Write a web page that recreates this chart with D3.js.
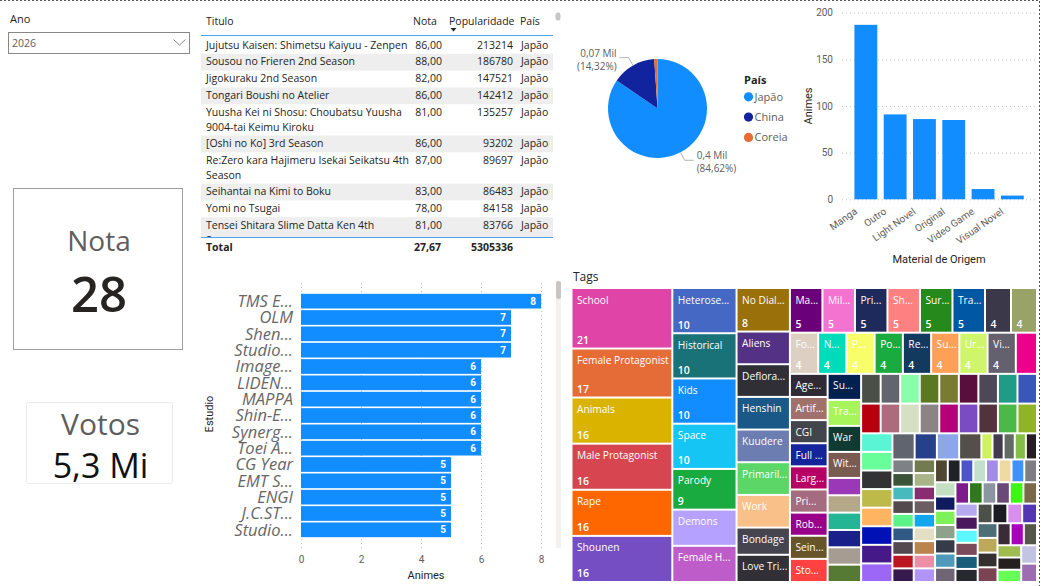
<!DOCTYPE html>
<html>
<head>
<meta charset="utf-8">
<script src="https://cdn.jsdelivr.net/npm/d3@7"></script>
<style>
  body { margin: 0; background: #fff; }
  svg { display: block; }
  text { font-family: "Segoe UI", "Open Sans", sans-serif; }
  text.din, .din text { font-family: "Roboto", "Segoe UI", sans-serif; }
</style>
</head>
<body>
<script>
// ---- dados ----
var anos = ['2026'];

var titulos = [
  'Jujutsu Kaisen: Shimetsu Kaiyuu - Zenpen',
  'Sousou no Frieren 2nd Season',
  'Jigokuraku 2nd Season',
  'Tongari Boushi no Atelier',
  'Yuusha Kei ni Shosu: Choubatsu Yuusha 9004-tai Keimu Kiroku',
  '[Oshi no Ko] 3rd Season',
  'Re:Zero kara Hajimeru Isekai Seikatsu 4th Season',
  'Seihantai na Kimi to Boku',
  'Yomi no Tsugai',
  'Tensei Shitara Slime Datta Ken 4th Season'
];
var notas = [86, 88, 82, 86, 81, 86, 87, 83, 78, 81];
var popularidade = [213214, 186780, 147521, 142412, 135257, 93202, 89697, 86483, 84158, 83766];
var paisTitulo = ['Japão', 'Japão', 'Japão', 'Japão', 'Japão', 'Japão', 'Japão', 'Japão', 'Japão', 'Japão'];
var totalNota = 27.67;
var totalPopularidade = 5305336;

var paises = ['Japão', 'China', 'Coreia'];
var animesPais = [396, 67, 5];
var coresPais = ['#118DFF', '#12239E', '#E66C37'];

var materiais = ['Manga', 'Outro', 'Light Novel', 'Original', 'Video Game', 'Visual Novel'];
var animesMaterial = [187, 91, 86, 85, 11, 4];
var ticksMaterial = [0, 50, 100, 150, 200];

var estudios = ['TMS E...', 'OLM', 'Shen...', 'Studio...', 'Image...', 'LIDEN...', 'MAPPA', 'Shin-E...',
  'Synerg...', 'Toei A...', 'CG Year', 'EMT S...', 'ENGI', 'J.C.ST...', 'Studio...'];
var animesEstudio = [8, 7, 7, 7, 6, 6, 6, 6, 6, 6, 5, 5, 5, 5, 5];
var ticksEstudio = [0, 2, 4, 6, 8];

// nomes legíveis das tags (o resto das células não mostra nome)
var tagNomes = ['School', 'Female Protagonist', 'Animals', 'Male Protagonist', 'Rape', 'Shounen',
  'Heterose...', 'Historical', 'Kids', 'Space', 'Parody', 'Demons', 'Female H...',
  'No Dial...', 'Aliens', 'Deflora...', 'Henshin', 'Kuudere', 'Primaril...', 'Work', 'Bondage', 'Love Tri...',
  'Ma...', 'Mil...', 'Pri...', 'Sh...', 'Sur...', 'Tra...', '', '',
  'Fo...', 'N...', 'P...', 'Po...', 'Re...', 'Su...', 'Ur...', 'Vi...', '',
  'Age...', 'Artif...', 'CGI', 'Full ...', 'Larg...', 'Pri...', 'Rob...', 'Sein...', 'Sto...',
  'Su...', 'Tra...', 'War', 'Wit...'];
var tagValores = [21, 17, 16, 16, 16, 16,
  10, 10, 10, 10, 9, 8, 8,
  8, 6, 6, 6, 6, 6, 6, 5, 5,
  5, 5, 5, 5, 5, 5, 4, 4,
  4, 4, 4, 4, 4, 4, 4, 4, 3,
  3, 3, 3, 3, 3, 3, 3, 3, 3,
  3, 3, 3, 3, 2, 2, 2, 2, 2, 2,
  2, 2, 2, 2, 2, 2, 2, 2, 2,
  2, 2, 2, 2, 2, 2, 2, 2, 2,
  2, 2, 2, 2, 2, 2, 2, 2,
  2, 2, 2, 2, 1, 1, 1, 1, 1,
  1, 1, 1, 1, 1, 1, 1, 1, 1,
  1, 1, 1, 1, 1, 1, 1, 1, 1,
  1, 1, 1, 1, 1, 1, 1, 1,
  1, 1, 1, 1, 1, 1, 1, 1, 1, 1, 1, 1, 1, 1, 1, 1, 1, 1,
  1, 1, 1, 1, 1, 1, 1, 1, 1, 1, 1, 1, 1, 1, 1, 1, 1];
var tagCores = ['#E044A7', '#E66C37', '#D9B300', '#D64550', '#FE6600', '#744EC2',
  '#4668C5', '#197278', '#118DFF', '#15C6F4', '#1AAB40', '#B5A1FF', '#BE5DC9',
  '#99700A', '#533285', '#302F36', '#1A5887', '#6B7DB1', '#5BD667', '#F9C08A', '#45444F', '#313037',
  '#6B007B', '#F472D0', '#1F2A5C', '#FF8080', '#25891C', '#0057A2', '#3A3849', '#9AA367',
  '#DDD0C2', '#00DBBC', '#F7FE6A', '#1AAB40', '#123A5E', '#FFA058', '#CFF56A', '#62616D', '#EC008C',
  '#302A36', '#A0706A', '#43454D', '#15249B', '#B60064', '#A56B7E', '#99008A', '#675529', '#FF4141',
  '#002050', '#A8F55B', '#0F3B33', '#7A5B51', '#9B38B8', '#B4A889', '#23B594', '#1A208A', '#A69C91', '#567A34',
  '#4A5046', '#62656E', '#8AFFAA', '#5B7820', '#7A7B33', '#5A0E3E', '#4D4756', '#1F9B86', '#3957B9',
  '#B7000F', '#AF6B7E', '#D4DFC4', '#8B8384', '#B40079', '#7B4BC3', '#52323C', '#4AB948', '#91B326',
  '#59F5D5', '#68FF9A', '#333336', '#BEBA4A', '#FEB460', '#0011B6', '#451988', '#9C66F6',
  '#60646F', '#264189', '#8DA6EA', '#544F49', '#CFF15B', '#433A4E', '#5F6B63', '#85BE47', '#261E22',
  '#7E8287', '#3B5438', '#47BABE', '#534A4E', '#5CF489', '#305A85', '#534750', '#BC1620', '#38194D',
  '#727A4F', '#A9B488', '#8A2C70', '#6C5D63', '#11A7EE', '#E2DFC4', '#BA844F', '#EB8EA6', '#B094F6',
  '#4F4632', '#1E2126', '#4B54C8', '#C3E0CE', '#A38CE8', '#EEDBA4', '#3E91FE', '#7F7E85',
  '#C4E0C2', '#0F1A5F', '#7DF15A', '#8EA28B', '#363B4A', '#4F9ABA', '#6F6576',
  '#7D1B8D', '#2E7A1A', '#8C96A1', '#6B4977', '#3BF713', '#7A6A49',
  '#B7A9ED', '#4A195D', '#5CF7FE', '#7B4A5A', '#1A5D7B',
  '#262A30', '#4D5048', '#1D1B22', '#D88EEF', '#5436B5',
  '#4C6E77', '#BDA95A', '#34302F', '#7A4455',
  '#3B2B38', '#A900BF', '#54574A', '#9FBC4F', '#25201F', '#66FF55', '#C3C4E3', '#9E6CB0'];

var texto = '#252423';
var cinza = '#605E5C';
var azul = '#118DFF';

var svg = d3.select('body').append('svg')
  .attr('width', 1041)
  .attr('height', 586);

// moldura pontilhada de foco
svg.append('path')
  .attr('d', 'M0,0.5H1039.5V586')
  .attr('fill', 'none')
  .attr('stroke', '#555')
  .attr('stroke-dasharray', '2,2');

// ---- slicer Ano ----
svg.append('text').attr('x', 10).attr('y', 23).text('Ano')
  .style('font-size', '11px').attr('fill', texto);
svg.append('rect')
  .attr('x', 8.5).attr('y', 32.5).attr('width', 181).attr('height', 21)
  .attr('fill', '#fff').attr('stroke', '#8a8886');
svg.append('text').attr('x', 12).attr('y', 47).text(anos[0])
  .style('font-size', '10.5px').attr('fill', cinza);
svg.append('path')
  .attr('d', 'M173.5,39.5L179.5,45L185.5,39.5')
  .attr('fill', 'none').attr('stroke', '#8a8886');

// ---- tabela ----
var fonteTabela = '10.5px "Segoe UI", "Open Sans", sans-serif';
var ctx = document.createElement('canvas').getContext('2d');

function quebraLinhas(t, largura) {
  ctx.font = fonteTabela;
  var palavras = t.split(' '), linhas = [], atual = '';
  palavras.forEach(function(p) {
    var teste = atual ? atual + ' ' + p : p;
    if (ctx.measureText(teste).width > largura && atual) {
      linhas.push(atual);
      atual = p;
    } else {
      atual = teste;
    }
  });
  linhas.push(atual);
  return linhas;
}

function fmtNota(v) { return v.toFixed(2).replace('.', ','); }

var tab = svg.append('g').style('font-size', '10.5px').attr('fill', texto);
tab.append('text').attr('x', 206).attr('y', 25).text('Titulo');
tab.append('text').attr('x', 413).attr('y', 25).text('Nota');
tab.append('text').attr('x', 449).attr('y', 25).text('Popularidade');
tab.append('text').attr('x', 520).attr('y', 25).text('País');
tab.append('path').attr('d', 'M450.5,28h6l-3,3.5z').attr('fill', texto);
svg.append('rect').attr('x', 555.5).attr('y', 12.5).attr('width', 5).attr('height', 8).attr('rx', 2.5)
  .attr('fill', '#c8c6c4');

svg.append('clipPath').attr('id', 'corteTabela')
  .append('rect').attr('x', 200).attr('y', 36).attr('width', 356).attr('height', 201);
var corpo = tab.append('g').attr('clip-path', 'url(#corteTabela)');

var yLinha = 37;
titulos.forEach(function(t, i) {
  var linhas = quebraLinhas(t, 204);
  var alt = 16.8 + (linhas.length - 1) * 14.5;
  if (i % 2 === 1) {
    corpo.append('rect')
      .attr('x', 201).attr('y', yLinha).attr('width', 352).attr('height', alt)
      .attr('fill', '#eeeeee');
  }
  linhas.forEach(function(l, j) {
    corpo.append('text').attr('x', 206).attr('y', yLinha + 11.5 + j * 14.8).text(l);
  });
  corpo.append('text').attr('x', 442).attr('y', yLinha + 11.5).attr('text-anchor', 'end').text(fmtNota(notas[i]));
  corpo.append('text').attr('x', 513).attr('y', yLinha + 11.5).attr('text-anchor', 'end').text(popularidade[i]);
  corpo.append('text').attr('x', 521).attr('y', yLinha + 11.5).text(paisTitulo[i]);
  yLinha += alt;
});

tab.append('line').attr('x1', 201).attr('x2', 553).attr('y1', 35.5).attr('y2', 35.5).attr('stroke', '#4aa3f5');
tab.append('line').attr('x1', 201).attr('x2', 553).attr('y1', 237.5).attr('y2', 237.5).attr('stroke', '#4aa3f5');
var tot = tab.append('g').style('font-weight', 'bold');
tot.append('text').attr('x', 206).attr('y', 251).text('Total');
tot.append('text').attr('x', 441).attr('y', 251).attr('text-anchor', 'end').text(fmtNota(totalNota));
tot.append('text').attr('x', 513).attr('y', 251).attr('text-anchor', 'end').text(totalPopularidade);

// ---- cartões ----
svg.append('rect')
  .attr('x', 13.5).attr('y', 188.5).attr('width', 169).attr('height', 161)
  .attr('fill', 'none').attr('stroke', '#a19f9d');
svg.append('text').attr('x', 99).attr('y', 250.5).attr('text-anchor', 'middle')
  .style('font-size', '28px').attr('fill', cinza).text('Nota');
svg.append('text').attr('x', 99).attr('y', 311.5).attr('text-anchor', 'middle')
  .style('font-size', '49px').style('font-weight', 600).attr('fill', texto)
  .text(Math.round(totalNota));

svg.append('rect')
  .attr('x', 26.5).attr('y', 402.5).attr('width', 146).attr('height', 81).attr('rx', 2)
  .attr('fill', 'none').attr('stroke', '#edebe9');
svg.append('text').attr('x', 100.5).attr('y', 435).attr('text-anchor', 'middle')
  .style('font-size', '30px').attr('fill', cinza).text('Votos');
svg.append('text').attr('x', 100.5).attr('y', 478).attr('text-anchor', 'middle')
  .style('font-size', '34px').attr('fill', '#111')
  .text((totalPopularidade / 1e6).toFixed(1).replace('.', ',') + ' Mi');

// ---- pizza País ----
var cx = 657.5, cy = 108.5, raio = 49.5;
var fatias = d3.pie().sort(null).value(function(d) { return d; })(animesPais);
var arco = d3.arc().innerRadius(0).outerRadius(raio);
var totalPais = d3.sum(animesPais);
var gPie = svg.append('g').attr('transform', 'translate(' + cx + ',' + cy + ')');

gPie.selectAll('path')
  .data(fatias)
  .enter().append('path')
  .attr('d', arco)
  .attr('fill', function(d, i) { return coresPais[i]; });

var fmtMil = function(v) { return d3.format('.1r')(v / 1000).replace('.', ',') + ' Mil'; };
var fmtPct = function(p) { return '(' + d3.format('.2%')(p).replace('.', ',') + ')'; };

fatias.forEach(function(f) {
  if (f.endAngle - f.startAngle < 0.3) return;
  var m = (f.startAngle + f.endAngle) / 2;
  var p0 = [Math.sin(m) * raio, -Math.cos(m) * raio];
  var p1 = [Math.sin(m) * (raio + 9), -Math.cos(m) * (raio + 9)];
  var lado = Math.sin(m) > 0 ? 1 : -1;
  var p2 = [p1[0] + lado * 9, p1[1]];
  gPie.append('polyline')
    .attr('points', [p0, p1, p2].join(' '))
    .attr('fill', 'none').attr('stroke', '#a19f9d').attr('stroke-width', 0.8);
  var rot = gPie.append('text')
    .attr('text-anchor', lado > 0 ? 'start' : 'end')
    .style('font-size', '10px').attr('fill', cinza);
  rot.append('tspan').attr('x', p2[0] + lado * 3).attr('y', p2[1] - 1).text(fmtMil(f.data));
  rot.append('tspan').attr('x', p2[0] + lado * 3).attr('y', p2[1] + 12).text(fmtPct(f.data / totalPais));
});

// legenda
svg.append('text').attr('x', 744).attr('y', 83.5).text('País')
  .style('font-size', '11px').style('font-weight', 'bold').attr('fill', texto);
var leg = svg.selectAll('.leg')
  .data(paises)
  .enter().append('g')
  .attr('class', 'leg')
  .attr('transform', function(d, i) { return 'translate(748.5,' + (96.8 + i * 20.3) + ')'; });
leg.append('circle').attr('r', 4.6).attr('fill', function(d, i) { return coresPais[i]; });
leg.append('text').attr('x', 6).attr('y', 4).text(function(d) { return d; })
  .style('font-size', '11px').attr('fill', cinza);

// ---- colunas Material de Origem ----
var xMat = d3.scaleBand().domain(materiais).range([851.5, 1026.7]).paddingInner(0.22).paddingOuter(0.1);
var yMat = d3.scaleLinear().domain([0, 200]).range([199.3, 12.7]);

svg.append('g')
  .attr('class', 'din')
  .attr('transform', 'translate(842,0)')
  .call(d3.axisLeft(yMat).tickValues(ticksMaterial).tickSize(-194).tickPadding(9))
  .call(function(g) { g.select('.domain').remove(); })
  .call(function(g) { g.selectAll('line').attr('stroke', '#c8c6c4').attr('stroke-dasharray', '1,3'); })
  .call(function(g) { g.selectAll('text').attr('fill', cinza).style('font-size', '10px'); });

svg.append('g').selectAll('rect')
  .data(animesMaterial)
  .enter().append('rect')
  .attr('x', function(d, i) { return xMat(materiais[i]); })
  .attr('y', function(d) { return yMat(d); })
  .attr('width', xMat.bandwidth())
  .attr('height', function(d) { return yMat(0) - yMat(d); })
  .attr('fill', azul);

svg.append('g').selectAll('text')
  .data(materiais)
  .enter().append('text')
  .attr('class', 'din')
  .attr('text-anchor', 'end')
  .attr('transform', function(d) { return 'translate(' + (xMat(d) + xMat.bandwidth() / 2 - 8) + ',213) rotate(-35)'; })
  .style('font-size', '10px').attr('fill', cinza)
  .text(function(d) { return d; });

svg.append('text').attr('class', 'din').attr('text-anchor', 'middle')
  .attr('x', 939).attr('y', 263).text('Material de Origem')
  .style('font-size', '11px').attr('fill', texto);
svg.append('text').attr('class', 'din').attr('text-anchor', 'middle')
  .attr('transform', 'translate(812,106) rotate(-90)').text('Animes')
  .style('font-size', '11px').attr('fill', texto);

// ---- barras Estudio ----
var xEst = d3.scaleLinear().domain([0, 8]).range([301, 541]);
var yEst = d3.scaleBand().domain(d3.range(estudios.length)).range([293, 538]).paddingInner(0.1).paddingOuter(0.05);

svg.append('g')
  .attr('class', 'din')
  .attr('transform', 'translate(0,548)')
  .call(d3.axisBottom(xEst).tickValues(ticksEstudio).tickSize(-267).tickPadding(8))
  .call(function(g) { g.select('.domain').remove(); })
  .call(function(g) { g.selectAll('line').attr('stroke', '#c8c6c4').attr('stroke-dasharray', '1,3'); })
  .call(function(g) { g.selectAll('text').attr('fill', cinza).style('font-size', '10px'); });

var barras = svg.append('g').selectAll('g')
  .data(animesEstudio)
  .enter().append('g');
barras.append('rect')
  .attr('x', xEst(0))
  .attr('y', function(d, i) { return yEst(i); })
  .attr('width', function(d) { return xEst(d) - xEst(0); })
  .attr('height', yEst.bandwidth())
  .attr('fill', azul);
barras.append('text')
  .attr('class', 'din')
  .attr('x', function(d) { return xEst(d) - 5; })
  .attr('y', function(d, i) { return yEst(i) + yEst.bandwidth() / 2 + 3.6; })
  .attr('text-anchor', 'end')
  .style('font-size', '10px').style('font-weight', 'bold').attr('fill', '#fff')
  .text(function(d) { return d; });
barras.append('text')
  .attr('x', 293)
  .attr('y', function(d, i) { return yEst(i) + yEst.bandwidth() / 2 + 5.8; })
  .attr('text-anchor', 'end')
  .style('font-size', '16.5px').style('font-style', 'italic').attr('fill', '#666')
  .text(function(d, i) { return estudios[i]; });

svg.append('text').attr('class', 'din').attr('text-anchor', 'middle')
  .attr('x', 426).attr('y', 579).text('Animes')
  .style('font-size', '11px').attr('fill', texto);
svg.append('text').attr('class', 'din').attr('text-anchor', 'middle')
  .attr('transform', 'translate(213,414) rotate(-90)').text('Estudio')
  .style('font-size', '11px').attr('fill', texto);

// barra de rolagem
svg.append('rect').attr('x', 556).attr('y', 281).attr('width', 5).attr('height', 267).attr('fill', '#f3f2f1');
svg.append('rect').attr('x', 556).attr('y', 281).attr('width', 5).attr('height', 18).attr('rx', 2.5).attr('fill', '#c8c6c4');

// ---- treemap Tags ----
svg.append('text').attr('x', 573).attr('y', 281).text('Tags')
  .style('font-size', '12px').attr('fill', texto);

var raiz = d3.hierarchy({
    children: tagValores.map(function(v, i) {
      return { nome: tagNomes[i] || '', valor: v, cor: tagCores[i] };
    })
  })
  .sum(function(d) { return d.valor || 0; });

d3.treemap()
  .tile(d3.treemapSquarify)
  .size([463.5, 292])
  .paddingInner(2)(raiz);

var gTree = svg.append('g').attr('transform', 'translate(572.5,289)');
var celulas = gTree.selectAll('g')
  .data(raiz.leaves())
  .enter().append('g')
  .attr('transform', function(d) { return 'translate(' + d.x0 + ',' + d.y0 + ')'; });

celulas.append('clipPath')
  .attr('id', function(d, i) { return 'cel' + i; })
  .append('rect')
  .attr('width', function(d) { return d.x1 - d.x0; })
  .attr('height', function(d) { return d.y1 - d.y0; });

celulas.append('rect')
  .attr('width', function(d) { return d.x1 - d.x0; })
  .attr('height', function(d) { return d.y1 - d.y0; })
  .attr('fill', function(d) { return d.data.cor; });

celulas.filter(function(d) { return d.data.nome && d.y1 - d.y0 >= 18; })
  .append('text')
  .attr('x', 4.5).attr('y', 14.5)
  .style('font-size', '10.2px').attr('fill', '#fff')
  .text(function(d) { return d.data.nome; });

// o valor só aparece em células altas o bastante
celulas.filter(function(d) { return d.y1 - d.y0 >= 37 && d.x1 - d.x0 >= 20; })
  .append('text')
  .attr('x', 4.5)
  .attr('y', function(d) { return d.y1 - d.y0 - 3.5; })
  .style('font-size', '10.5px').style('font-weight', 600).attr('fill', '#fff')
  .text(function(d) { return d.data.valor; });

celulas.each(function(d, i) {
  d3.select(this).selectAll('text').attr('clip-path', 'url(#cel' + i + ')');
});
</script>
</body>
</html>
